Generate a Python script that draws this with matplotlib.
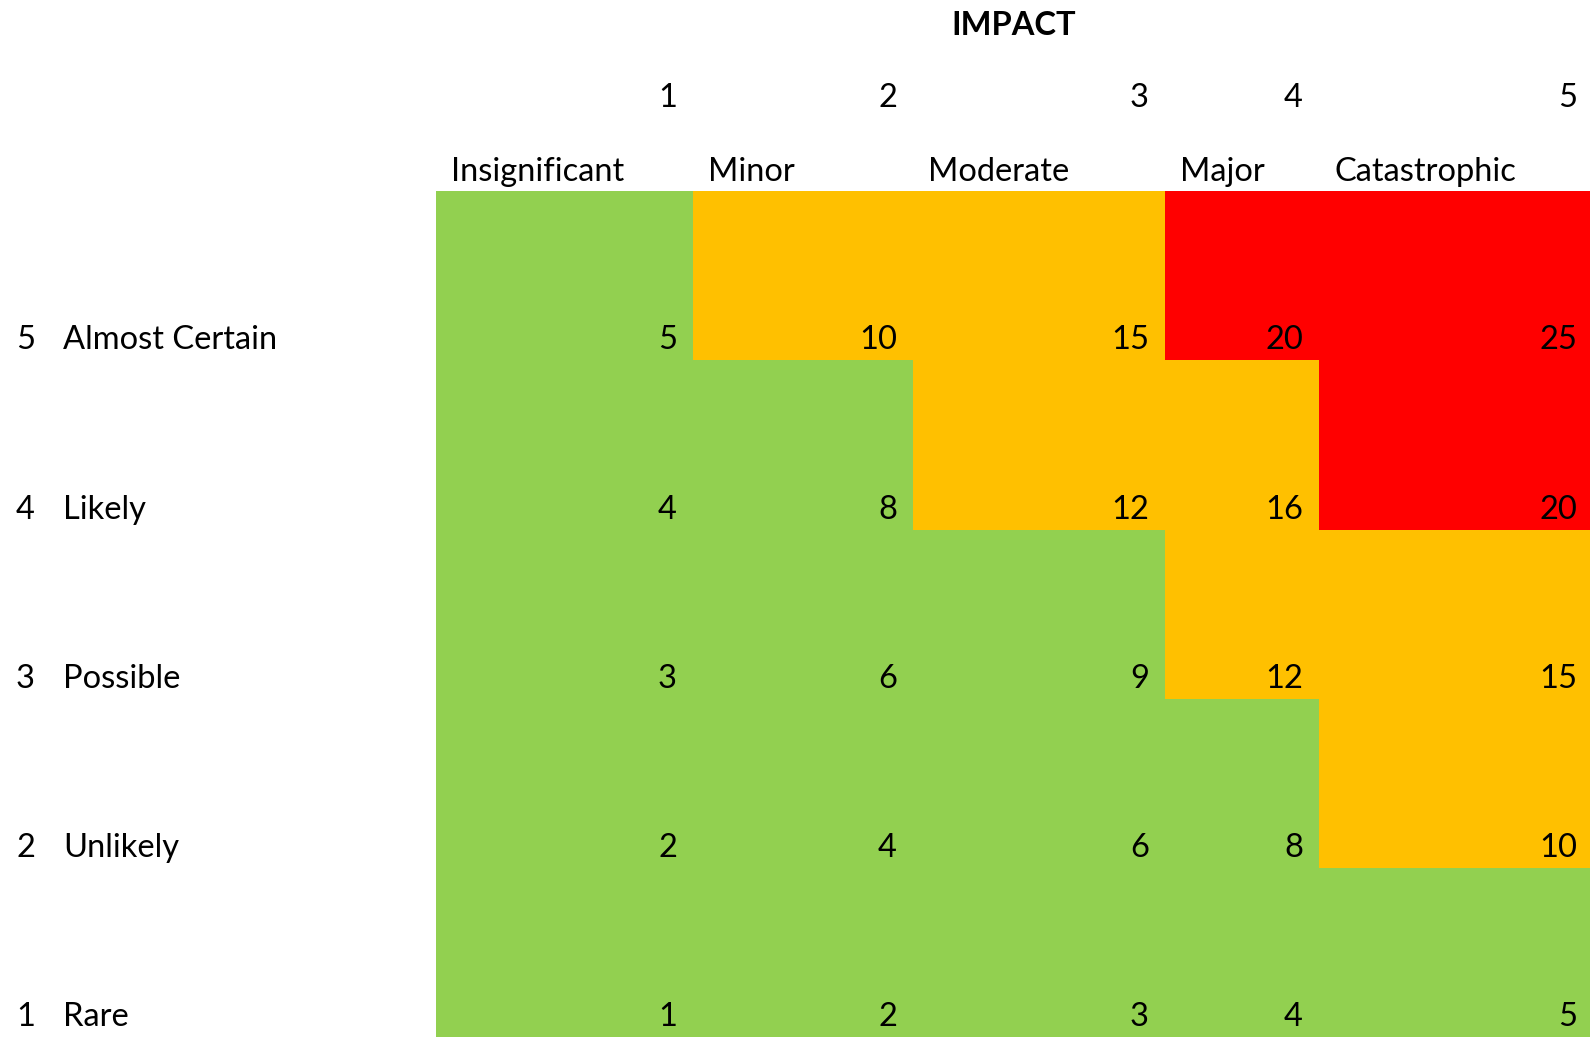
import matplotlib
matplotlib.use("Agg")
import matplotlib.pyplot as plt
from matplotlib.colors import ListedColormap, BoundaryNorm
import numpy as np

# ---- data ----
impact_scores = [1, 2, 3, 4, 5]
impact_labels = ["Insignificant", "Minor", "Moderate", "Major", "Catastrophic"]
likelihood_scores = [5, 4, 3, 2, 1]
likelihood_labels = ["Almost Certain", "Likely", "Possible", "Unlikely", "Rare"]
risk_scores = [
    [5, 10, 15, 20, 25],
    [4, 8, 12, 16, 20],
    [3, 6, 9, 12, 15],
    [2, 4, 6, 8, 10],
    [1, 2, 3, 4, 5],
]
# 0 = low (green), 1 = medium (amber), 2 = high (red)
risk_levels = [
    [0, 1, 1, 2, 2],
    [0, 0, 1, 1, 2],
    [0, 0, 0, 1, 1],
    [0, 0, 0, 0, 1],
    [0, 0, 0, 0, 0],
]
level_colors = ["#92D050", "#FFC000", "#FF0000"]
title = "IMPACT"

# ---- layout (pixel grid of the sheet) ----
col_edges = [436, 693, 913, 1165, 1319, 1593]
row_edges = [191, 360, 530, 699, 868, 1037]
FONT = ["Lato", "DejaVu Sans"]
FS = 23.5

fig = plt.figure(figsize=(15.9, 10.37), dpi=100)
ax = fig.add_axes([0, 0, 1, 1])
ax.set_xlim(0, 1590)
ax.set_ylim(1037, 0)
ax.axis("off")

cmap = ListedColormap(level_colors)
norm = BoundaryNorm([-0.5, 0.5, 1.5, 2.5], cmap.N)
ax.pcolormesh(col_edges, row_edges, np.array(risk_levels), cmap=cmap, norm=norm,
              shading="flat", edgecolors="none", antialiased=False)

# cell values
for i, row in enumerate(risk_scores):
    for j, v in enumerate(row):
        ax.text(col_edges[j + 1] - 16, row_edges[i + 1] - 11, str(v),
                ha="right", va="baseline", fontsize=FS, family=FONT, color="black")

# row labels
for i, (s, lab) in enumerate(zip(likelihood_scores, likelihood_labels)):
    y = row_edges[i + 1] - 11
    ax.text(16, y, str(s), ha="left", va="baseline", fontsize=FS, family=FONT)
    ax.text(63, y, lab, ha="left", va="baseline", fontsize=FS, family=FONT)

# column headers
for j, (s, lab) in enumerate(zip(impact_scores, impact_labels)):
    ax.text(col_edges[j + 1] - 16, 107, str(s), ha="right", va="baseline",
            fontsize=FS, family=FONT)
    ax.text(col_edges[j] + 15, 181, lab, ha="left", va="baseline",
            fontsize=FS, family=FONT)

ax.text(1014, 35, title, ha="center", va="baseline", fontsize=FS,
        family=FONT, fontweight="bold")

fig.savefig("out.png", dpi=100)
